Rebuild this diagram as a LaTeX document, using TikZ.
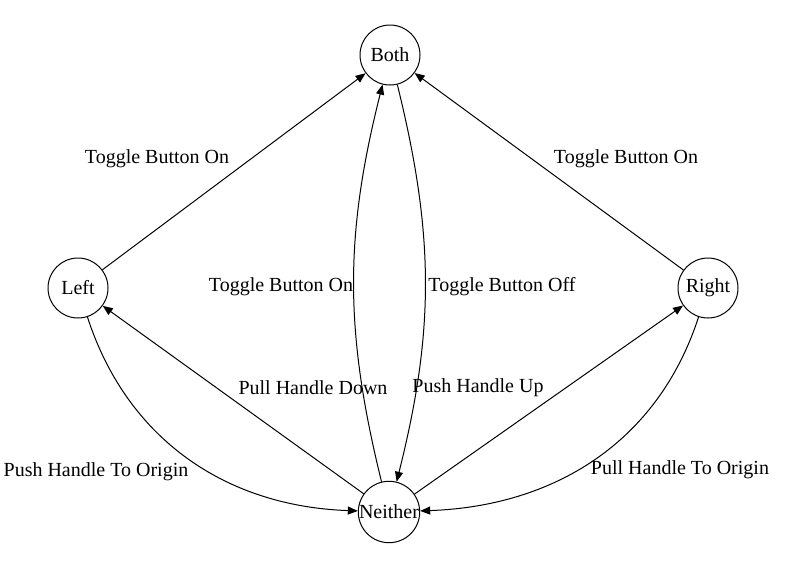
\documentclass[tikz,border=0pt]{standalone}
\usepackage{fontspec}
\setmainfont{Liberation Serif}
\usepackage{tikz}
\usetikzlibrary{arrows.meta}

\begin{document}
\begin{tikzpicture}[x=0.5pt, y=-0.5pt, line width=0.5pt,
        state/.style={circle, draw=black, minimum size=30pt, inner sep=0pt, font=\fontsize{10}{11}\selectfont},
        lbl/.style={font=\fontsize{10}{11}\selectfont, inner sep=0pt},
        >={Triangle[length=5pt, width=4pt]}]
    \useasboundingbox (0,0) rectangle (789,586);

    \node[state] (both) at (390,55) {Both};
    \node[state] (left) at (78,288) {Left};
    \node[state] (right) at (708,288) {Right};
    \node[state] (neither) at (389,512) {Neither};

    \draw[->] (left) -- (both);
    \draw[->] (right) -- (both);
    \draw[->] (neither) to[bend left=14] (both);
    \draw[->] (both) to[bend left=14] (neither);
    \draw[->] (neither) -- (left);
    \draw[->] (neither) -- (right);
    \draw[->] (left) to[out=-72, in=178] (neither);
    \draw[->] (right) to[out=-108, in=2] (neither);

    \node[lbl] (onL) at (157,159) {Toggle Button On};
    \node[lbl] (onR) at (626,159) {Toggle Button On};
    \node[lbl] (onM) at (281,287) {Toggle Button On};
    \node[lbl] (offM) at (502,287) {Toggle Button Off};
    \node[lbl] (down) at (313,388) {Pull Handle Down};
    \node[lbl] (up) at (478,388) {Push Handle Up};
    \node[lbl] (originL) at (96,472) {Push Handle To Origin};
    \node[lbl] (originR) at (680,470) {Pull Handle To Origin};
\end{tikzpicture}
\end{document}
